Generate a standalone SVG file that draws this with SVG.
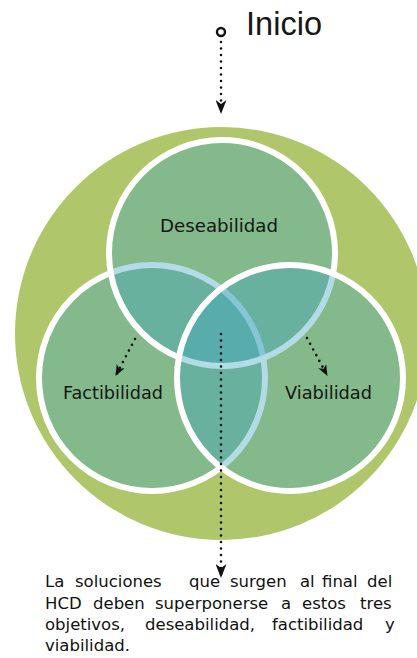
<svg xmlns="http://www.w3.org/2000/svg" width="417" height="658" viewBox="0 0 417 658">
  <defs>
    <style>
      .venn { fill: #42a5bf; fill-opacity: 0.4; stroke: #ffffff; stroke-width: 6; }
      .lbl { font-family: "DejaVu Sans", "Liberation Sans", sans-serif; fill: #161616; }
      .ttl { font-family: "Liberation Sans", Arial, sans-serif; fill: #161616; }
      .dots { fill: none; stroke: #111; stroke-width: 2.6; stroke-linecap: round; stroke-dasharray: 0 6.5; }
      .para { font-family: "DejaVu Sans", "Liberation Sans", sans-serif; font-size: 16.5px; fill: #111; }
    </style>
    <marker id="arr" markerUnits="userSpaceOnUse" markerWidth="14" markerHeight="11" viewBox="0 0 14 11" refX="13" refY="5.5" orient="auto">
      <path d="M0,0 L14,5.5 L0,11 L4,5.5 Z" fill="#111"/>
    </marker>
    <marker id="arrs" markerUnits="userSpaceOnUse" markerWidth="11" markerHeight="9" viewBox="0 0 11 9" refX="10" refY="4.5" orient="auto">
      <path d="M0,0 L11,4.5 L0,9 L3,4.5 Z" fill="#111"/>
    </marker>
  </defs>

  <rect width="417" height="658" fill="#ffffff"/>

  <g id="background">
    <circle cx="221.5" cy="333.5" r="206.5" fill="#b0c66a"/>
  </g>

  <g id="node-factibilidad">
    <circle class="venn" cx="152" cy="378" r="113"/>
  </g>
  <g id="node-deseabilidad">
    <circle class="venn" cx="222" cy="253" r="113"/>
  </g>
  <g id="node-viabilidad">
    <circle class="venn" cx="290" cy="378" r="113"/>
  </g>

  <g id="labels">
    <text class="lbl" x="160" y="232" font-size="18.5" textLength="118" lengthAdjust="spacingAndGlyphs">Deseabilidad</text>
    <text class="lbl" x="63" y="399" font-size="18.5" textLength="100" lengthAdjust="spacingAndGlyphs">Factibilidad</text>
    <text class="lbl" x="285" y="399" font-size="18.5" textLength="87" lengthAdjust="spacingAndGlyphs">Viabilidad</text>
  </g>

  <g id="node-inicio">
    <circle cx="221" cy="32" r="4" fill="#fff" stroke="#111" stroke-width="2.4"/>
    <text class="ttl" x="246" y="35" font-size="33" textLength="76" lengthAdjust="spacingAndGlyphs">Inicio</text>
  </g>

  <g id="connectors">
    <path class="dots" d="M221,42 L221,113" marker-end="url(#arr)"/>
    <path class="dots" d="M135,339 L116,375" marker-end="url(#arrs)"/>
    <path class="dots" d="M307,338 L327,375" marker-end="url(#arrs)"/>
    <path class="dots" d="M221,334 L221,577" marker-end="url(#arr)"/>
  </g>

  <g id="note">
    <text class="para" y="587"><tspan x="45">La</tspan><tspan x="75">soluciones</tspan><tspan x="189">que</tspan><tspan x="230">surgen</tspan><tspan x="300">al</tspan><tspan x="322">final</tspan><tspan x="367">del</tspan></text>
    <text class="para" y="608.5"><tspan x="45">HCD</tspan><tspan x="93">deben</tspan><tspan x="155">superponerse</tspan><tspan x="281">a</tspan><tspan x="302">estos</tspan><tspan x="360">tres</tspan></text>
    <text class="para" y="630"><tspan x="45">objetivos,</tspan><tspan x="145">deseabilidad,</tspan><tspan x="272">factibilidad</tspan><tspan x="385">y</tspan></text>
    <text class="para" x="45" y="651">viabilidad.</text>
  </g>
</svg>
